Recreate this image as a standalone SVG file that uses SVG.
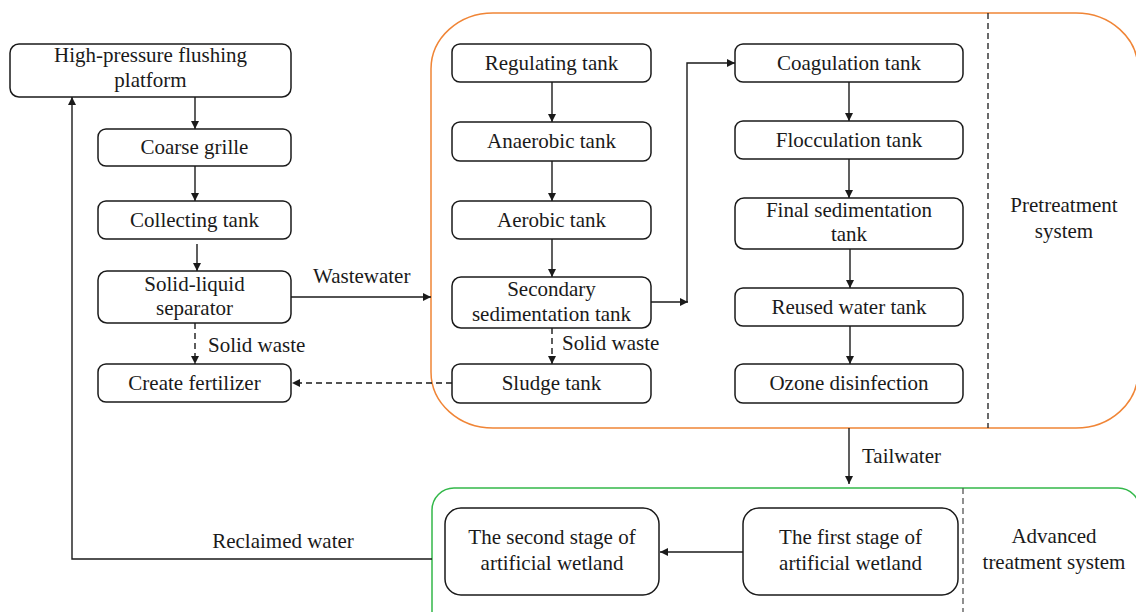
<svg xmlns="http://www.w3.org/2000/svg" width="1136" height="612" viewBox="0 0 1136 612">
<defs>
<style>
.box{fill:#fff;stroke:#1a1a1a;stroke-width:1.5}
.t{font-family:"Liberation Serif","DejaVu Serif",serif;font-size:21px;fill:#1a1a1a;text-anchor:middle}
.l{font-family:"Liberation Serif","DejaVu Serif",serif;font-size:21px;fill:#1a1a1a}
.ln{fill:none;stroke:#1a1a1a;stroke-width:1.4}
.dash{fill:none;stroke:#1a1a1a;stroke-width:1.4;stroke-dasharray:6 4}
</style>
<marker id="ah" viewBox="0 0 10 10" refX="10" refY="5" markerWidth="8" markerHeight="8" markerUnits="userSpaceOnUse" orient="auto">
<path d="M0,0 L10,5 L0,10 z" fill="#1a1a1a"/>
</marker>
</defs>
<rect width="1136" height="612" fill="#fff"/>

<g id="containers">
<rect x="431" y="13" width="707" height="415" rx="62" ry="56" fill="none" stroke="#f08536" stroke-width="1.5"/>
<line x1="988" y1="13" x2="988" y2="428" stroke="#1a1a1a" stroke-width="1.3" stroke-dasharray="6 4"/>
<rect x="432" y="488" width="708" height="160" rx="22" ry="22" fill="none" stroke="#33b84a" stroke-width="1.5"/>
<line x1="963" y1="488" x2="963" y2="612" stroke="#555" stroke-width="1.3" stroke-dasharray="6 4"/>
<text class="t" x="1064" y="212">Pretreatment</text>
<text class="t" x="1064" y="238">system</text>
<text class="t" x="1054" y="543">Advanced</text>
<text class="t" x="1054" y="569">treatment system</text>
</g>

<g id="connectors">
<line class="ln" x1="195" y1="97" x2="195" y2="129" marker-end="url(#ah)"/>
<line class="ln" x1="195" y1="166" x2="195" y2="201" marker-end="url(#ah)"/>
<line class="ln" x1="197" y1="244" x2="197" y2="271" marker-end="url(#ah)"/>
<line class="dash" x1="195" y1="323" x2="195" y2="364" marker-end="url(#ah)"/>
<line class="ln" x1="291" y1="297" x2="431" y2="297" marker-end="url(#ah)"/>
<line class="dash" x1="452" y1="383" x2="292" y2="383" marker-end="url(#ah)"/>
<line class="ln" x1="552" y1="82" x2="552" y2="122" marker-end="url(#ah)"/>
<line class="ln" x1="552" y1="161" x2="552" y2="201" marker-end="url(#ah)"/>
<line class="ln" x1="552" y1="239" x2="552" y2="277" marker-end="url(#ah)"/>
<line class="dash" x1="552" y1="328" x2="552" y2="364" marker-end="url(#ah)"/>
<line class="ln" x1="651" y1="302" x2="688" y2="302" marker-end="url(#ah)"/>
<polyline class="ln" points="687,302 687,63 735,63" marker-end="url(#ah)"/>
<line class="ln" x1="849" y1="82" x2="849" y2="121" marker-end="url(#ah)"/>
<line class="ln" x1="849" y1="159" x2="849" y2="198" marker-end="url(#ah)"/>
<line class="ln" x1="850" y1="249" x2="850" y2="288" marker-end="url(#ah)"/>
<line class="ln" x1="850" y1="326" x2="850" y2="364" marker-end="url(#ah)"/>
<line class="ln" x1="849" y1="428" x2="849" y2="484" marker-end="url(#ah)"/>
<line class="ln" x1="743" y1="552" x2="660" y2="552" marker-end="url(#ah)"/>
<polyline class="ln" points="432,559 72,559 72,97" marker-end="url(#ah)"/>
<text class="l" x="313" y="283">Wastewater</text>
<text class="l" x="208" y="352">Solid waste</text>
<text class="l" x="562" y="350">Solid waste</text>
<text class="l" x="862" y="463">Tailwater</text>
<text class="t" x="283" y="548">Reclaimed water</text>
</g>

<g id="n-platform"><rect class="box" x="10" y="44" width="281" height="53" rx="9"/>
<text class="t" x="150.5" y="62">High-pressure flushing</text><text class="t" x="150.5" y="87">platform</text></g>
<g id="n-grille"><rect class="box" x="98" y="129" width="193" height="37" rx="8"/><text class="t" x="194.5" y="154">Coarse grille</text></g>
<g id="n-collecting"><rect class="box" x="98" y="201" width="193" height="38" rx="8"/><text class="t" x="194.5" y="226.5">Collecting tank</text></g>
<g id="n-separator"><rect class="box" x="98" y="271" width="193" height="52" rx="9"/>
<text class="t" x="194.5" y="291">Solid-liquid</text><text class="t" x="194.5" y="315">separator</text></g>
<g id="n-fertilizer"><rect class="box" x="98" y="364" width="193" height="38" rx="8"/><text class="t" x="194.5" y="389.5">Create fertilizer</text></g>

<g id="n-regulating"><rect class="box" x="452" y="44" width="199" height="38" rx="8"/><text class="t" x="551.5" y="69.5">Regulating tank</text></g>
<g id="n-anaerobic"><rect class="box" x="452" y="122" width="199" height="39" rx="8"/><text class="t" x="551.5" y="148">Anaerobic tank</text></g>
<g id="n-aerobic"><rect class="box" x="452" y="201" width="199" height="38" rx="8"/><text class="t" x="551.5" y="226.5">Aerobic tank</text></g>
<g id="n-secondary"><rect class="box" x="452" y="277" width="199" height="51" rx="9"/>
<text class="t" x="551.5" y="296">Secondary</text><text class="t" x="551.5" y="321">sedimentation tank</text></g>
<g id="n-sludge"><rect class="box" x="452" y="364" width="199" height="39" rx="8"/><text class="t" x="551.5" y="390">Sludge tank</text></g>

<g id="n-coagulation"><rect class="box" x="735" y="44" width="228" height="38" rx="8"/><text class="t" x="849" y="69.5">Coagulation tank</text></g>
<g id="n-flocculation"><rect class="box" x="735" y="121" width="228" height="38" rx="8"/><text class="t" x="849" y="146.5">Flocculation tank</text></g>
<g id="n-final"><rect class="box" x="735" y="198" width="228" height="51" rx="9"/>
<text class="t" x="849" y="217">Final sedimentation</text><text class="t" x="849" y="241">tank</text></g>
<g id="n-reused"><rect class="box" x="735" y="288" width="228" height="38" rx="8"/><text class="t" x="849" y="313.5">Reused water tank</text></g>
<g id="n-ozone"><rect class="box" x="735" y="364" width="228" height="39" rx="8"/><text class="t" x="849" y="390">Ozone disinfection</text></g>

<g id="n-wetland2"><rect class="box" x="445" y="508" width="214" height="87" rx="16"/>
<text class="t" x="552" y="544">The second stage of</text><text class="t" x="552" y="570">artificial wetland</text></g>
<g id="n-wetland1"><rect class="box" x="743" y="508" width="215" height="87" rx="16"/>
<text class="t" x="850.5" y="544">The first stage of</text><text class="t" x="850.5" y="570">artificial wetland</text></g>
</svg>
